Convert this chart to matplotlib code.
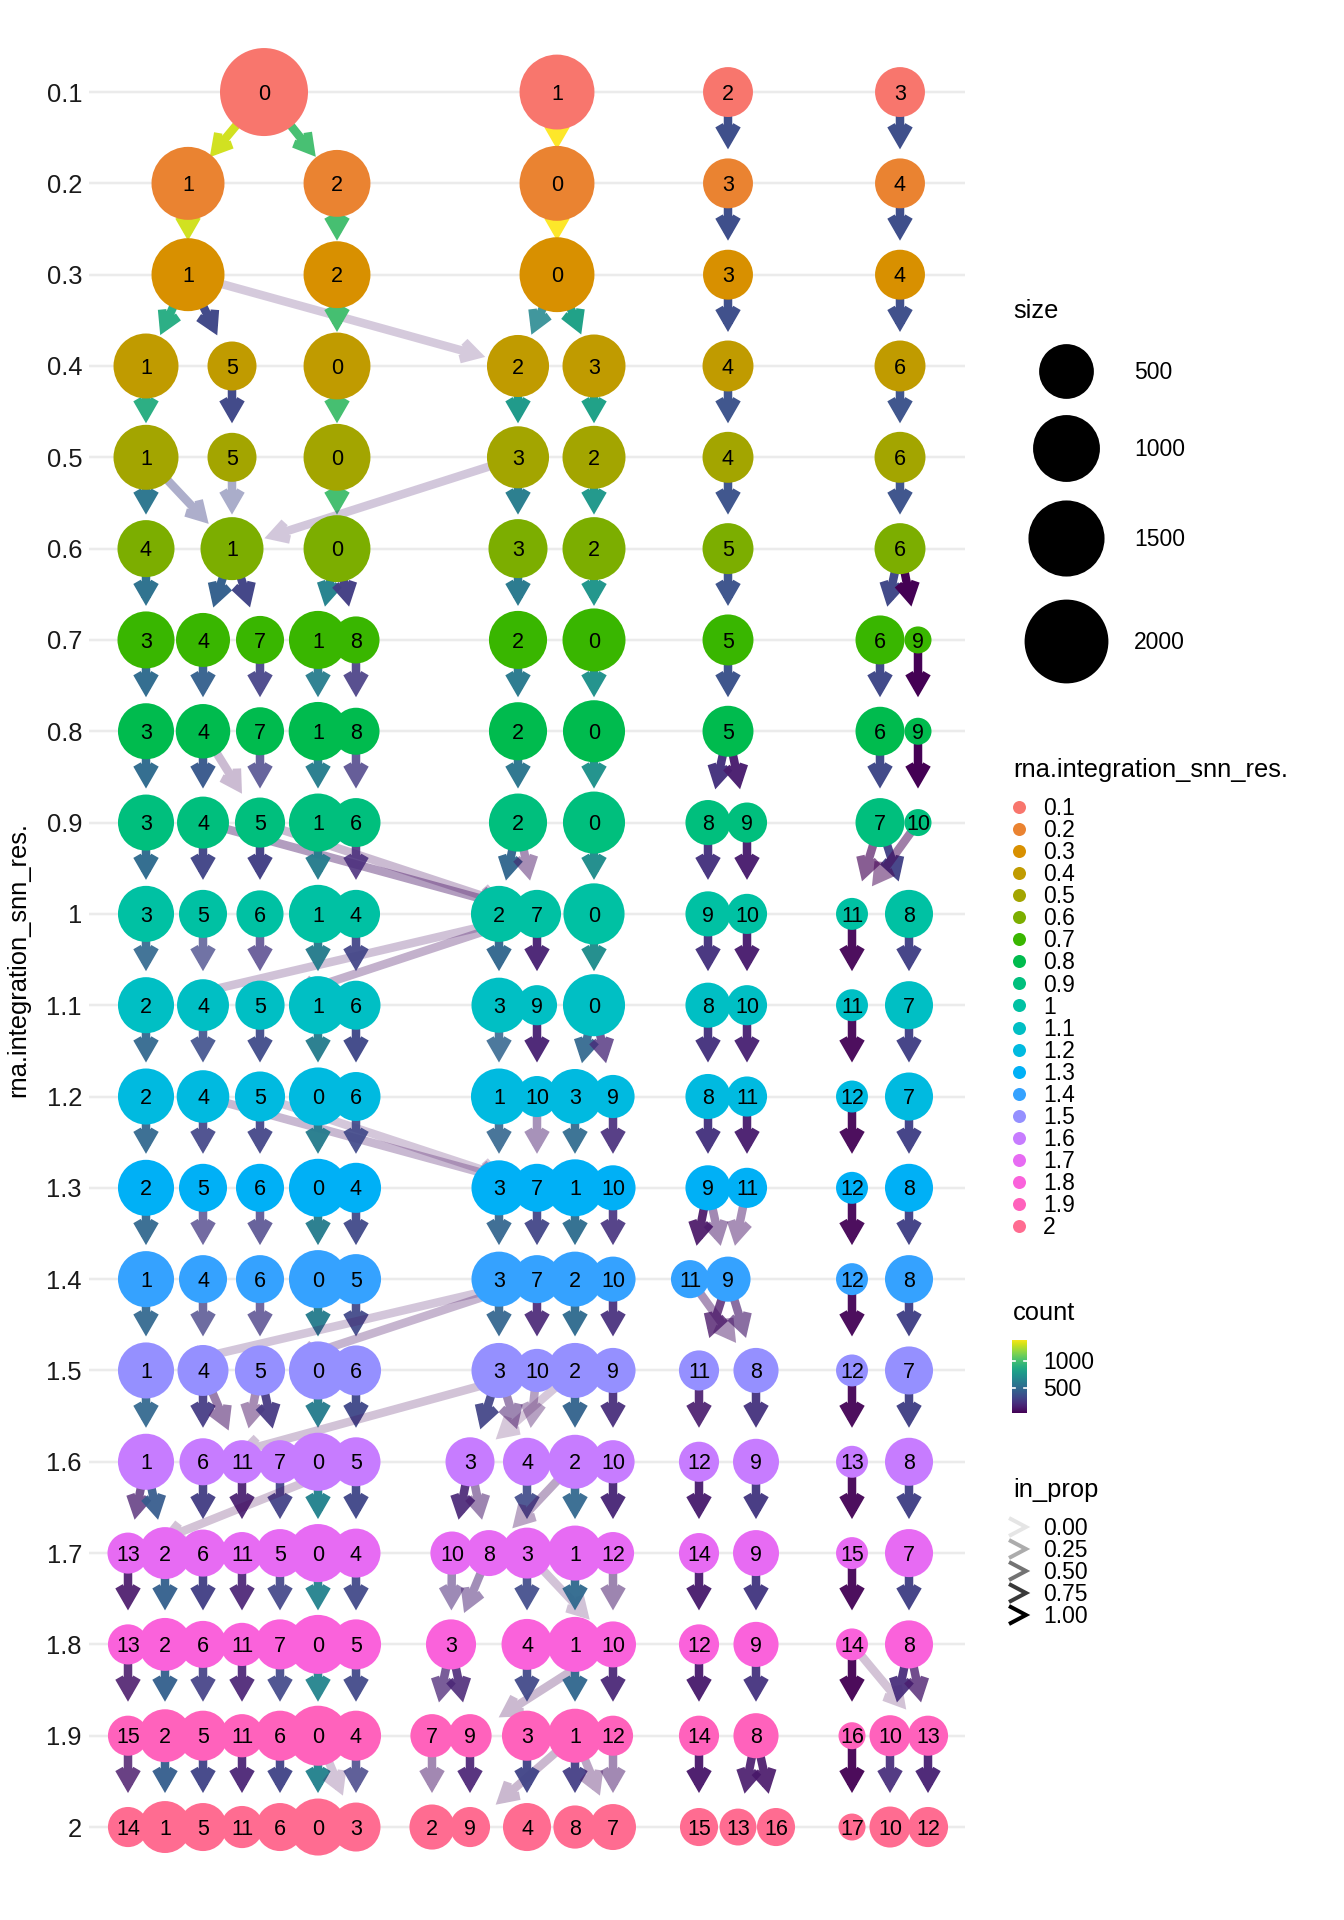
import numpy as np
import matplotlib
matplotlib.use("Agg")
import matplotlib.pyplot as plt
import matplotlib.transforms as mtrans
from matplotlib.path import Path
from matplotlib.patches import PathPatch
from matplotlib.colors import Normalize
from matplotlib import colormaps

plt.rcParams['font.family'] = ['Liberation Sans', 'DejaVu Sans']

# ---- data -------------------------------------------------------------
resolutions = [0.1, 0.2, 0.3, 0.4, 0.5, 0.6, 0.7, 0.8, 0.9, 1.0,
               1.1, 1.2, 1.3, 1.4, 1.5, 1.6, 1.7, 1.8, 1.9, 2.0]
res_labels = ["0.1", "0.2", "0.3", "0.4", "0.5", "0.6", "0.7", "0.8", "0.9", "1",
              "1.1", "1.2", "1.3", "1.4", "1.5", "1.6", "1.7", "1.8", "1.9", "2"]

# clusters of every resolution, in layout order
node_cluster = [
    [0, 1, 2, 3],
    [1, 2, 0, 3, 4],
    [1, 2, 0, 3, 4],
    [1, 5, 0, 2, 3, 4, 6],
    [1, 5, 0, 3, 2, 4, 6],
    [4, 1, 0, 3, 2, 5, 6],
    [3, 4, 7, 1, 8, 2, 0, 5, 6, 9],
    [3, 4, 7, 1, 8, 2, 0, 5, 6, 9],
    [3, 4, 5, 1, 6, 2, 0, 8, 9, 7, 10],
    [3, 5, 6, 1, 4, 2, 7, 0, 9, 10, 11, 8],
    [2, 4, 5, 1, 6, 3, 9, 0, 8, 10, 11, 7],
    [2, 4, 5, 0, 6, 1, 10, 3, 9, 8, 11, 12, 7],
    [2, 5, 6, 0, 4, 3, 7, 1, 10, 9, 11, 12, 8],
    [1, 4, 6, 0, 5, 3, 7, 2, 10, 11, 9, 12, 8],
    [1, 4, 5, 0, 6, 3, 10, 2, 9, 11, 8, 12, 7],
    [1, 6, 11, 7, 0, 5, 3, 4, 2, 10, 12, 9, 13, 8],
    [13, 2, 6, 11, 5, 0, 4, 10, 8, 3, 1, 12, 14, 9, 15, 7],
    [13, 2, 6, 11, 7, 0, 5, 3, 4, 1, 10, 12, 9, 14, 8],
    [15, 2, 5, 11, 6, 0, 4, 7, 9, 3, 1, 12, 14, 8, 16, 10, 13],
    [14, 1, 5, 11, 6, 0, 3, 2, 9, 4, 8, 7, 15, 13, 16, 17, 10, 12],
]

# tree layout position of every node
node_x = [
    [264, 557, 728, 900],
    [188, 337, 557, 728, 900],
    [188, 337, 557, 728, 900],
    [146, 232, 337, 518, 594, 728, 900],
    [146, 232, 337, 518, 594, 728, 900],
    [146, 232, 337, 518, 594, 728, 900],
    [146, 203, 260, 318, 356, 518, 594, 728, 880, 918],
    [146, 203, 260, 318, 356, 518, 594, 728, 880, 918],
    [146, 203, 260, 318, 356, 518, 594, 708, 747, 880, 918],
    [146, 203, 260, 318, 356, 499, 537, 594, 708, 747, 852, 909],
    [146, 203, 260, 318, 356, 499, 537, 594, 708, 747, 852, 909],
    [146, 203, 260, 318, 356, 499, 537, 575, 613, 708, 747, 852, 909],
    [146, 203, 260, 318, 356, 499, 537, 575, 613, 708, 747, 852, 909],
    [146, 203, 260, 318, 356, 499, 537, 575, 613, 690, 728, 852, 909],
    [146, 203, 260, 318, 356, 499, 537, 575, 613, 699, 756, 852, 909],
    [146, 203, 242, 280, 318, 356, 470, 527, 575, 613, 699, 756, 852, 909],
    [128, 165, 203, 242, 280, 318, 356, 452, 489, 527, 575, 613, 699, 756, 852, 909],
    [128, 165, 203, 242, 280, 318, 356, 451, 527, 575, 613, 699, 756, 852, 909],
    [128, 165, 203, 242, 280, 318, 356, 432, 470, 527, 575, 613, 699, 756, 852, 890, 928],
    [128, 165, 203, 242, 280, 318, 356, 432, 470, 527, 575, 613, 699, 738, 776, 852, 890, 928],
]

# cells per cluster
node_size = [
    [2300, 1430, 350, 350],
    [1320, 1000, 1430, 350, 350],
    [1320, 1000, 1430, 350, 350],
    [910, 325, 1000, 780, 820, 380, 380],
    [910, 325, 1000, 780, 820, 380, 380],
    [580, 820, 1000, 655, 820, 380, 380],
    [580, 475, 300, 620, 275, 620, 820, 380, 325, 30],
    [545, 490, 300, 640, 275, 620, 780, 380, 325, 30],
    [545, 410, 355, 620, 325, 620, 780, 230, 135, 325, 30],
    [545, 300, 275, 620, 300, 545, 300, 740, 230, 135, 45, 300],
    [545, 410, 330, 620, 325, 510, 135, 780, 230, 135, 45, 300],
    [545, 430, 355, 620, 325, 545, 150, 510, 190, 230, 135, 45, 300],
    [545, 300, 300, 620, 355, 510, 300, 580, 230, 230, 135, 45, 300],
    [545, 300, 300, 620, 355, 510, 300, 510, 230, 105, 230, 45, 300],
    [545, 380, 355, 620, 355, 510, 190, 510, 230, 135, 230, 45, 300],
    [545, 275, 190, 190, 620, 325, 325, 300, 475, 190, 135, 250, 45, 300],
    [150, 410, 275, 170, 300, 620, 325, 190, 250, 380, 510, 170, 135, 250, 45, 300],
    [135, 440, 275, 190, 355, 655, 355, 355, 380, 510, 250, 135, 230, 45, 300],
    [135, 440, 355, 190, 355, 695, 355, 190, 190, 355, 475, 135, 135, 230, 30, 150, 135],
    [135, 410, 300, 170, 300, 580, 325, 230, 135, 300, 190, 250, 105, 90, 105, 30, 150, 135],
]

# edges between consecutive resolutions (row k: resolution k -> k+1)
edge_from = [
    [0, 0, 1, 2, 3],
    [1, 2, 0, 3, 4],
    [1, 1, 1, 2, 0, 0, 3, 4],
    [1, 5, 0, 2, 3, 4, 6],
    [1, 1, 5, 0, 3, 3, 2, 4, 6],
    [4, 1, 1, 0, 0, 3, 2, 5, 6, 6],
    [3, 4, 7, 1, 8, 2, 0, 5, 6, 9],
    [3, 4, 4, 7, 1, 8, 2, 0, 5, 5, 6, 9],
    [3, 4, 4, 5, 5, 1, 6, 2, 2, 0, 8, 9, 7, 7, 10],
    [3, 7, 5, 6, 7, 1, 4, 2, 7, 0, 9, 10, 11, 8],
    [2, 4, 5, 1, 6, 3, 9, 0, 0, 8, 10, 11, 7],
    [2, 4, 4, 5, 5, 0, 6, 1, 10, 3, 9, 8, 11, 12, 7],
    [2, 5, 6, 0, 4, 3, 7, 1, 10, 9, 9, 11, 12, 8],
    [1, 4, 6, 0, 5, 7, 7, 3, 7, 2, 10, 9, 9, 11, 12, 8],
    [1, 4, 4, 5, 5, 0, 6, 10, 3, 3, 10, 2, 2, 9, 11, 8, 12, 7],
    [1, 1, 6, 11, 7, 0, 5, 5, 3, 3, 4, 2, 2, 10, 12, 9, 13, 8],
    [13, 2, 6, 11, 5, 0, 4, 10, 8, 3, 3, 1, 12, 14, 9, 15, 7],
    [13, 2, 6, 11, 7, 0, 5, 3, 3, 10, 4, 1, 10, 12, 9, 14, 14, 8, 8],
    [15, 2, 5, 11, 6, 0, 0, 4, 7, 9, 1, 3, 1, 1, 12, 14, 8, 8, 16, 10, 13],
]
edge_to = [
    [1, 2, 0, 3, 4],
    [1, 2, 0, 3, 4],
    [1, 5, 2, 0, 2, 3, 4, 6],
    [1, 5, 0, 3, 2, 4, 6],
    [4, 1, 1, 0, 3, 1, 2, 5, 6],
    [3, 4, 7, 1, 8, 2, 0, 5, 6, 9],
    [3, 4, 7, 1, 8, 2, 0, 5, 6, 9],
    [3, 4, 5, 5, 1, 6, 2, 0, 8, 9, 7, 10],
    [3, 5, 7, 6, 7, 1, 4, 2, 7, 0, 9, 10, 11, 8, 11],
    [2, 2, 4, 5, 5, 1, 6, 3, 9, 0, 8, 10, 11, 7],
    [2, 4, 5, 0, 6, 1, 10, 3, 9, 8, 11, 12, 7],
    [2, 5, 7, 6, 7, 0, 4, 3, 7, 1, 10, 9, 11, 12, 8],
    [1, 4, 6, 0, 5, 3, 7, 2, 10, 11, 9, 9, 12, 8],
    [1, 4, 5, 0, 6, 1, 5, 3, 10, 2, 9, 11, 8, 8, 12, 7],
    [1, 6, 11, 11, 7, 0, 5, 6, 3, 4, 4, 3, 2, 10, 12, 9, 13, 8],
    [13, 2, 6, 11, 5, 0, 4, 13, 10, 8, 3, 8, 1, 12, 14, 9, 15, 7],
    [13, 2, 6, 11, 7, 0, 5, 3, 3, 4, 10, 1, 10, 12, 9, 14, 8],
    [15, 2, 5, 11, 6, 0, 4, 7, 9, 9, 3, 1, 12, 14, 8, 16, 13, 10, 13],
    [14, 1, 5, 11, 6, 0, 3, 3, 2, 9, 9, 4, 8, 7, 7, 15, 13, 16, 17, 10, 12],
]
edge_count = [
    [1300, 990, 1400, 345, 345],
    [1300, 990, 1400, 345, 345],
    [870, 320, 110, 990, 660, 810, 345, 345],
    [880, 320, 990, 770, 810, 370, 370],
    [560, 300, 310, 990, 600, 130, 760, 370, 370],
    [530, 440, 300, 640, 270, 580, 740, 370, 320, 30],
    [500, 440, 280, 600, 260, 580, 720, 370, 320, 30],
    [500, 400, 70, 280, 600, 260, 560, 720, 225, 130, 320, 30],
    [500, 300, 90, 280, 70, 600, 190, 480, 90, 700, 225, 130, 40, 290, 25],
    [480, 90, 300, 250, 80, 600, 300, 480, 150, 700, 225, 130, 40, 290],
    [480, 345, 330, 600, 320, 470, 150, 480, 180, 225, 150, 40, 290],
    [480, 300, 90, 300, 60, 600, 320, 470, 130, 500, 200, 225, 130, 40, 290],
    [480, 260, 270, 600, 320, 470, 300, 510, 220, 90, 110, 100, 40, 290],
    [480, 280, 260, 600, 320, 80, 80, 470, 170, 500, 210, 100, 130, 90, 40, 290],
    [480, 260, 100, 80, 250, 600, 320, 60, 300, 130, 90, 40, 460, 200, 125, 225, 40, 290],
    [130, 420, 270, 140, 290, 640, 310, 25, 170, 120, 330, 80, 480, 165, 130, 250, 40, 290],
    [110, 440, 280, 150, 300, 640, 320, 170, 150, 330, 60, 490, 120, 125, 250, 40, 290],
    [110, 440, 280, 150, 310, 650, 320, 150, 160, 40, 320, 480, 160, 125, 230, 30, 30, 200, 120],
    [110, 430, 300, 150, 300, 640, 50, 290, 100, 150, 30, 300, 270, 70, 110, 110, 120, 110, 30, 200, 150],
]
edge_in_prop = [
    [0.98, 0.98, 0.98, 0.99, 0.99],
    [0.98, 0.99, 0.98, 0.99, 0.99],
    [0.96, 0.98, 0.14, 0.99, 0.85, 0.99, 0.98, 0.98],
    [0.97, 0.98, 0.99, 0.99, 0.99, 0.97, 0.97],
    [0.97, 0.37, 0.38, 0.99, 0.98, 0.16, 0.98, 0.97, 0.97],
    [0.98, 0.98, 0.98, 0.98, 0.97, 0.98, 0.98, 0.97, 0.98, 1.0],
    [0.97, 0.95, 0.9, 0.95, 0.88, 0.97, 0.98, 0.98, 0.98, 1.0],
    [0.97, 0.96, 0.2, 0.78, 0.97, 0.8, 0.97, 0.98, 0.98, 0.96, 0.98, 1.0],
    [0.97, 0.96, 0.35, 0.97, 0.2, 0.98, 0.85, 0.96, 0.42, 0.98, 0.97, 0.96, 0.6, 0.96, 0.45],
    [0.9, 0.17, 0.72, 0.75, 0.25, 0.98, 0.92, 0.96, 0.95, 0.98, 0.97, 0.96, 0.95, 0.97],
    [0.93, 0.88, 0.93, 0.97, 0.96, 0.85, 0.95, 0.92, 0.75, 0.97, 0.95, 0.95, 0.97],
    [0.93, 0.9, 0.22, 0.92, 0.14, 0.97, 0.9, 0.88, 0.42, 0.92, 0.9, 0.97, 0.95, 0.95, 0.97],
    [0.93, 0.72, 0.78, 0.97, 0.93, 0.92, 0.93, 0.95, 0.9, 0.9, 0.45, 0.42, 0.95, 0.97],
    [0.92, 0.74, 0.74, 0.97, 0.92, 0.15, 0.23, 0.92, 0.9, 0.95, 0.92, 0.75, 0.6, 0.4, 0.95, 0.97],
    [0.92, 0.92, 0.5, 0.42, 0.93, 0.97, 0.95, 0.16, 0.92, 0.48, 0.33, 0.13, 0.95, 0.93, 0.9, 0.95, 0.95, 0.97],
    [0.72, 0.93, 0.95, 0.92, 0.93, 0.97, 0.95, 0.15, 0.9, 0.48, 0.9, 0.3, 0.93, 0.95, 0.95, 0.97, 0.95, 0.97],
    [0.9, 0.95, 0.95, 0.9, 0.9, 0.95, 0.92, 0.48, 0.45, 0.9, 0.16, 0.95, 0.48, 0.95, 0.97, 0.95, 0.97],
    [0.85, 0.95, 0.9, 0.9, 0.9, 0.95, 0.92, 0.7, 0.85, 0.2, 0.92, 0.95, 0.92, 0.95, 0.95, 0.95, 0.15, 0.93, 0.75],
    [0.8, 0.95, 0.95, 0.92, 0.95, 0.97, 0.15, 0.82, 0.45, 0.9, 0.2, 0.95, 0.93, 0.3, 0.45, 0.95, 0.9, 0.9, 0.95, 0.92, 0.95],
]

size_breaks = [500, 1000, 1500, 2000]
count_breaks = [500, 1000]
in_prop_breaks = [0.0, 0.25, 0.5, 0.75, 1.0]

# ggplot hue palette, one colour per resolution
res_colors = ["#F8766D", "#EA8331", "#D89000", "#C09B00", "#A3A500", "#7CAE00",
              "#39B600", "#00BB4E", "#00BF7D", "#00C1A3", "#00BFC4", "#00BAE0",
              "#00B0F6", "#35A2FF", "#9590FF", "#C77CFF", "#E76BF3", "#FA62DB",
              "#FF62BC", "#FF6C91"]

# ---- scales ------------------------------------------------------------
DPI = 100
PT = 72 / DPI          # points per pixel
W, H = 1344, 1920

all_sizes = [s for row in node_size for s in row]
smin, smax = min(all_sizes), max(all_sizes)


def node_diam(n):
    # area-like size scale, diameters in pixels
    return 27 + 61 * np.sqrt((np.asarray(n, float) - smin) / (smax - smin))


all_counts = [c for row in edge_count for c in row]
cnorm = Normalize(min(all_counts), max(all_counts))
cmap = colormaps['viridis']


def edge_alpha(p):
    return 0.1 + 0.9 * p


fig = plt.figure(figsize=(W / DPI, H / DPI), dpi=DPI)
ax = fig.add_axes([89 / W, 40 / H, 876 / W, 1840 / H])
ax.set_xlim(89, 965)
ax.set_ylim(resolutions[-1] + 0.058, resolutions[0] - 0.057)
for sp in ax.spines.values():
    sp.set_visible(False)
ax.set_xticks([])
ax.set_yticks(resolutions)
ax.set_yticklabels(res_labels, fontsize=18.4, color='#1a1a1a')
ax.tick_params(axis='y', length=0, pad=7 * PT)
ax.grid(axis='y', color='#ebebeb', linewidth=2.5 * PT)
ax.set_axisbelow(True)

fig.text(18 / W, 0.5, 'rna.integration_snn_res.', rotation=90,
         ha='center', va='center', fontsize=18.4, color='black')

# ---- edges -------------------------------------------------------------
pos = {}
for i, res in enumerate(resolutions):
    for cl, x in zip(node_cluster[i], node_x[i]):
        pos[(i, cl)] = ax.transData.transform((x, res))

inv = ax.transData.inverted()
edge_w = 8.5          # px
head_len = 18         # px
tip_gap = 34 + edge_w  # px from child centre to arrow point
ang = np.radians(30)


def rot(v, t):
    return np.array([v[0] * np.cos(t) - v[1] * np.sin(t),
                     v[0] * np.sin(t) + v[1] * np.cos(t)])


for k in range(len(edge_from)):
    for a, b, cnt, ip in zip(edge_from[k], edge_to[k], edge_count[k], edge_in_prop[k]):
        p0 = pos[(k, a)]
        p1 = pos[(k + 1, b)]
        d = p1 - p0
        u = d / np.hypot(*d)
        tip = p1 - u * tip_gap
        w1 = tip + rot(-u, ang) * head_len
        w2 = tip + rot(-u, -ang) * head_len
        verts = inv.transform(np.array([p0, tip, w1, tip, w2]))
        codes = [Path.MOVETO, Path.LINETO, Path.MOVETO, Path.LINETO, Path.LINETO]
        col = cmap(cnorm(cnt))
        ax.add_patch(PathPatch(Path(verts, codes), fill=False,
                               edgecolor=(col[0], col[1], col[2], edge_alpha(ip)),
                               lw=edge_w * PT, joinstyle='miter', capstyle='butt',
                               zorder=2))

# ---- nodes -------------------------------------------------------------
fs_node = 15.5
label_tf = mtrans.offset_copy(ax.transData, fig=fig, y=-0.355 * fs_node, units='points')
for i, res in enumerate(resolutions):
    d = node_diam(node_size[i])
    ax.scatter(node_x[i], [res] * len(node_x[i]), s=(d * PT) ** 2,
               color=res_colors[i], linewidths=0, zorder=3)
    for cl, x in zip(node_cluster[i], node_x[i]):
        ax.text(x, res, str(cl), transform=label_tf, ha='center', va='baseline',
                fontsize=fs_node, color='black', zorder=4)

# ---- legends (pixel layout) -------------------------------------------
lay = fig.add_axes([0, 0, 1, 1])
lay.set_xlim(0, W)
lay.set_ylim(H, 0)
lay.axis('off')
lay.patch.set_visible(False)

fs_title = 18.4
fs_lab = 16.5


def lab(x, yc, s, fs=fs_lab):
    # vertically centre digits on yc
    lay.text(x, yc + 0.355 * fs / PT, s, ha='left', va='baseline', fontsize=fs)


lx = 1013
lay.text(lx, 318, 'size', fontsize=fs_title, va='baseline')
size_y = [371, 448, 538, 641]
for v, yy in zip(size_breaks, size_y):
    dd = node_diam(v)
    lay.scatter([1066], [yy], s=(dd * PT) ** 2, color='black', linewidths=0)
    lab(1134, yy, str(v))

lay.text(lx, 777, 'rna.integration_snn_res.', fontsize=fs_title, va='baseline')
for i, lbl in enumerate(res_labels):
    yy = 807 + 22.05 * i
    lay.scatter([1019], [yy], s=(13 * PT) ** 2, color=res_colors[i], linewidths=0)
    lab(1043, yy, lbl)

lay.text(lx, 1320, 'count', fontsize=fs_title, va='baseline')
bar_top, bar_bot = 1340, 1413
cax = fig.add_axes([1012 / W, (H - bar_bot) / H, 15 / W, (bar_bot - bar_top) / H])
grad = np.linspace(cnorm.vmin, cnorm.vmax, 256)[:, None]
cax.imshow(grad, aspect='auto', cmap=cmap, norm=cnorm, origin='lower',
           extent=[0, 1, cnorm.vmin, cnorm.vmax])
cax.set_xlim(0, 1)
cax.set_ylim(cnorm.vmin, cnorm.vmax)
cax.axis('off')
for v in count_breaks:
    cax.plot([0, 0.2], [v, v], color='white', lw=1.2)
    cax.plot([0.8, 1], [v, v], color='white', lw=1.2)
    yy = bar_bot - cnorm(v) * (bar_bot - bar_top)
    lab(1043, yy, str(v))

lay.text(lx, 1497, 'in_prop', fontsize=fs_title, va='baseline')
for i, v in enumerate(in_prop_breaks):
    yy = 1527 + 22 * i
    lay.plot([1009, 1026, 1009], [yy - 9, yy, yy + 9], color='black',
             alpha=edge_alpha(v), lw=4 * PT, solid_joinstyle='miter',
             solid_capstyle='butt')
    lab(1043, yy, f"{v:.2f}")

fig.savefig('out.png', dpi=DPI)
